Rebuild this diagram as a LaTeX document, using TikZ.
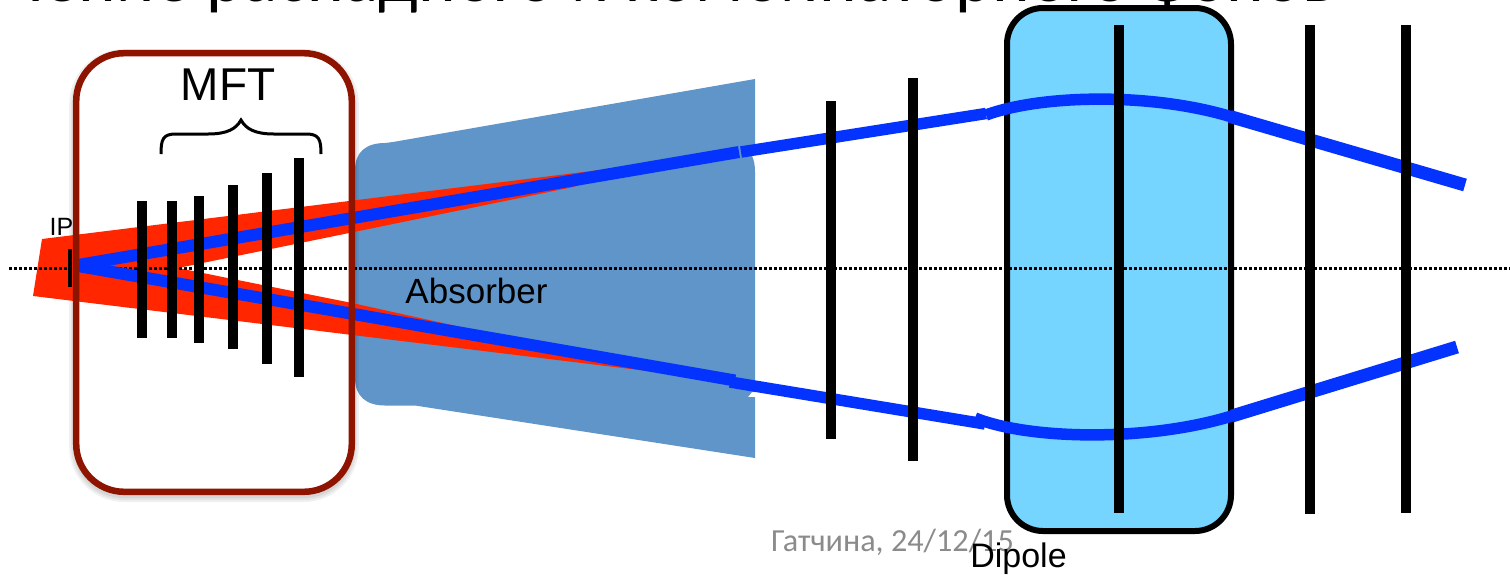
\documentclass[tikz,border=0pt]{standalone}
\usepackage{fontspec}
\setmainfont{Liberation Sans}
\newfontfamily\slidefont{Carlito}
\definecolor{FrameRed}{HTML}{8E1400}
\definecolor{BeamRed}{HTML}{FF2600}
\definecolor{TrackBlue}{HTML}{0433FF}
\definecolor{AbsorberBlue}{HTML}{5F95C8}
\definecolor{DipoleBlue}{HTML}{75D5FF}
\definecolor{FooterGray}{HTML}{8B8B8B}
\tikzset{plane/.style={line width=10pt,black},track/.style={line width=11.5pt,TrackBlue},frame/.style={rounded corners=48pt,line width=6.5pt,draw=FrameRed},label/.style={inner sep=0pt,anchor=base,black}}
\begin{document}
\begin{tikzpicture}[x=1pt,y=-1pt]
        \useasboundingbox (0,0) rectangle (1510,574);
        \clip (0,0) rectangle (1510,574);
        \node[anchor=base west,inner sep=0pt,font=\slidefont\fontsize{71}{74}\selectfont] (title) at (10,1){чение распадного и комбинаторного фонов};
        \draw[rounded corners=36pt,line width=6pt,fill=DipoleBlue] (1007,8) rectangle (1231,531);
        \fill[AbsorberBlue] (755,79)--(755,152)--(752,156) .. controls (754,160) and (755,165) .. (755,172)--(755,392)--(752,392)--(748,397)--(755,397)--(755,458)--(415,405.5)--(385,405.5) .. controls (366,405.5) and (355,396) .. (355,378)--(355,170) .. controls (355,152) and (366,143) .. (385,143)--(393,142)--cycle;
        \foreach \w in {14,10,6}
          \draw[black,opacity=.06,line width=\w pt,rounded corners=48pt] (76.2,56) rectangle (351.8,495);
        \fill[white,rounded corners=48pt] (76.2,53.2) rectangle (351.8,491.8);
        \fill[BeamRed] (42,239)--(640,165)--(573,187)--(354,232)--(178,268)--(352,303)--(497,335)--(680,375)--(33,296)--cycle;
        \draw[line width=3pt,dash pattern=on 3pt off 2pt] (9,268)--(1510,268);
        \draw[track,line width=12pt] (78,265)--(739,152);
        \draw[track,line width=12pt] (78,266)--(735,380.5);
        \draw[track] (741,152)--(986,113.5);
        \draw[track] (986,115) .. controls (1040,95) and (1150,92) .. (1232,117);
        \draw[track,line width=13pt] (1230,116.5)--(1465,185);
        \draw[track] (730,382)--(985,424);
        \draw[track] (975,418) .. controls (1030,440) and (1150,442) .. (1235,415);
        \draw[track,line width=13pt] (1232,416)--(1457,347);
        \foreach \x/\ya/\yb in {142/201/338,172/201/338,199/196/343,233/185/349,267/173/364,299/158/377,831/101/439,913/78/461,1119/25/513,1310/25/514,1406/25/513}
          \draw[plane] (\x,\ya)--(\x,\yb);
        \draw[line width=4pt] (70,249)--(70,287);
        \draw[frame] (76.2,53.2) rectangle (351.8,491.8);
        \draw[line width=3pt] (161,154) .. controls (161,139) and (163,134) .. (176,134)--(208,134) .. controls (227,134) and (236,129) .. (241,120) .. controls (246,129) and (255,134) .. (274,134)--(306,134) .. controls (319,134) and (321,139) .. (321,154);
        \node[label,font=\fontsize{46}{50}\selectfont] (mft) at (228,100){MFT};
        \node[label,font=\fontsize{25}{28}\selectfont] (ip) at (61.5,235){IP};
        \node[label,font=\fontsize{35}{38}\selectfont] (absorber) at (476.5,303){Absorber};
        \node[anchor=base west,inner sep=0pt,FooterGray,font=\slidefont\fontsize{32.2}{35}\selectfont] (footer) at (771,551){Гатчина, 24/12/15};
        \node[label,font=\fontsize{34}{37}\selectfont] (dipole) at (1018.5,567){Dipole};
      \end{tikzpicture}
\end{document}
